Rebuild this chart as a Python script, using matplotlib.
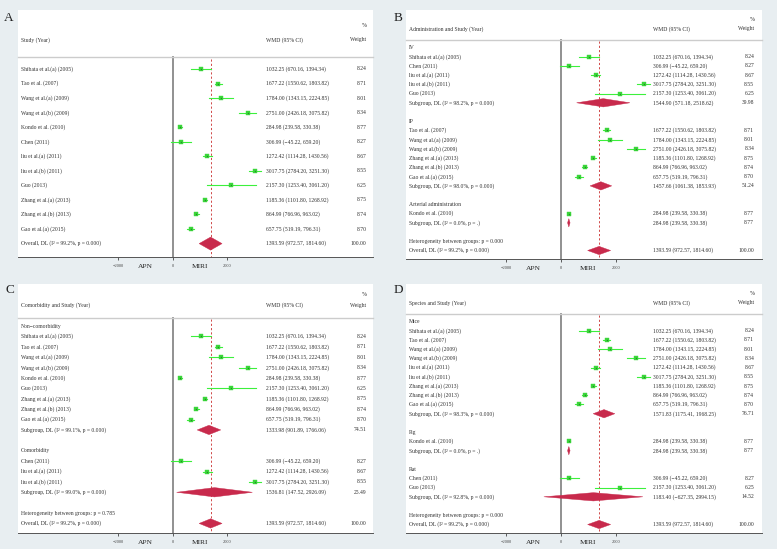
import matplotlib
matplotlib.use("Agg")
import matplotlib.pyplot as plt
from matplotlib.patches import Polygon
import numpy as np

plt.rcParams['font.family'] = ['Liberation Serif', 'DejaVu Serif']

# ---------------- data ----------------
study_names = ["Shibata et al.(a) (2005)", "Tao et al. (2007)", "Wang et al.(a) (2009)",
               "Wang et al.(b) (2009)", "Kondo et al. (2010)", "Chen (2011)",
               "liu et al.(a) (2011)", "liu et al.(b) (2011)", "Guo (2013)",
               "Zhang et al.(a) (2013)", "Zhang et al.(b) (2013)", "Gao et al.(a) (2015)"]
wmd = [1032.25, 1677.22, 1784.00, 2751.00, 284.98, 306.99,
       1272.42, 3017.75, 2157.30, 1185.36, 864.99, 657.75]
ci_low = [670.16, 1550.62, 1343.15, 2426.18, 239.58, -45.22,
          1114.28, 2784.20, 1253.40, 1101.80, 766.96, 519.19]
ci_high = [1394.34, 1803.82, 2224.85, 3075.82, 330.38, 659.20,
           1430.56, 3251.30, 3061.20, 1268.92, 963.02, 796.31]
weights = [8.24, 8.71, 8.01, 8.34, 8.77, 8.27, 8.67, 8.55, 6.25, 8.75, 8.74, 8.70]

overall_summary = [1393.59, 972.57, 1814.60, 100.00]
overall_i2 = ["99.2%", "0.000"]

# Panel B: administration
admin_groups = ["IV", "IP", "Arterial administration"]
admin_members = [[0, 5, 6, 7, 8], [1, 2, 3, 9, 10, 11], [4]]
admin_summary = [[1544.90, 571.18, 2518.62, 39.98],
                 [1457.66, 1061.38, 1853.93, 51.24],
                 [284.98, 239.58, 330.38, 8.77]]
admin_i2 = [["98.2%", "0.000"], ["98.0%", "0.000"], ["0.0%", "."]]
admin_het_p = "0.000"

# Panel C: comorbidity
comorb_groups = ["Non\u2212comorbidity", "Comorbidity"]
comorb_members = [[0, 1, 2, 3, 4, 8, 9, 10, 11], [5, 6, 7]]
comorb_summary = [[1333.98, 901.89, 1766.06, 74.51],
                  [1536.81, 147.52, 2926.09, 25.49]]
comorb_i2 = [["99.1%", "0.000"], ["99.0%", "0.000"]]
comorb_het_p = "0.785"

# Panel D: species
species_groups = ["Mice", "Pig", "Rat"]
species_members = [[0, 1, 2, 3, 6, 7, 9, 10, 11], [4], [5, 8]]
species_summary = [[1571.83, 1175.41, 1968.25, 76.71],
                   [284.98, 239.58, 330.38, 8.77],
                   [1183.40, -627.35, 2994.15, 14.52]]
species_i2 = [["98.3%", "0.000"], ["0.0%", "."], ["92.8%", "0.000"]]
species_het_p = "0.000"

x_ticks = [-2000, 0, 2000]
x_tick_labels = ["\u22122000", "0", "2000"]
left_label = "APN"
right_label = "MIRI"

# ---------------- style ----------------
BG = '#e8eef1'
TXT = '#333333'
GREEN_LINE = '#3cf03c'
GREEN_BOX = '#3ad63a'
GREEN_DOT = '#2a8a2a'
DIAMOND = '#c82a4c'
RED_DASH = '#d04848'
FS = 4.1
XLIM = (-5670, 7350)


def fmt_ci(v):
    s = "%.2f (%.2f, %.2f)" % (v[0], v[1], v[2])
    return s.replace("-", "\u2212")


def build_rows(groups=None, members=None, summary=None, i2=None, het_p=None):
    rows = []
    if groups is None:
        for i in range(len(study_names)):
            rows.append(("study", i))
    else:
        for g, (name, mem) in enumerate(zip(groups, members)):
            rows.append(("group", name))
            for i in mem:
                rows.append(("study", i))
            rows.append(("sub", g))
            rows.append(("blank", None))
        rows.append(("het", het_p))
    rows.append(("overall", None))
    return rows


def draw_panel(rect, letter, letter_pos, header, rows, summary, i2, wmd_x, wt_x):
    ax = fig.add_axes(rect)
    n = len(rows)
    ax.set_xlim(*XLIM)
    ax.set_ylim(n + 0.92, -3.05)
    ax.set_facecolor('white')
    for s in ['left', 'right', 'top']:
        ax.spines[s].set_visible(False)
    ax.spines['bottom'].set_color('#555555')
    ax.spines['bottom'].set_linewidth(0.7)
    ax.set_yticks([])
    ax.set_xticks(x_ticks)
    ax.set_xticklabels(x_tick_labels)
    ax.tick_params(axis='x', direction='out', length=2.5, width=0.6,
                   labelsize=3.2, pad=2.6, colors='#444444')
    tr = ax.get_yaxis_transform()  # x axes, y data

    # header
    ax.text(wt_x, -2, "%", transform=tr, ha='right', va='center', fontsize=FS, color=TXT)
    ax.text(0.0075, -1, header, transform=tr, ha='left', va='center', fontsize=FS, color=TXT)
    ax.text(wmd_x, -1, "WMD (95% CI)", transform=tr, ha='left', va='center', fontsize=FS, color=TXT)
    ax.text(wt_x, -1, "Weight", transform=tr, ha='right', va='center', fontsize=FS, color=TXT)
    ax.plot([0, 1], [0.2, 0.2], transform=tr, color='#cccccc', lw=1.0, clip_on=False)

    # reference lines
    ax.plot([0, 0], [0.2, n + 0.92], color='#888888', lw=1.3, zorder=1, clip_on=False)
    ax.plot([overall_summary[0]] * 2, [0.35, n + 0.92], color=RED_DASH, lw=0.7,
            ls=(0, (2.2, 2.2)), zorder=1)

    h = 0.45
    for k, (kind, val) in enumerate(rows):
        y = k + 1
        if kind == "study":
            i = val
            ax.plot([ci_low[i], ci_high[i]], [y, y], color=GREEN_LINE, lw=0.8, zorder=2)
            side = 0.9 * np.sqrt(weights[i])
            ax.plot(wmd[i], y, marker='s', ms=side, mfc=GREEN_BOX, mec=GREEN_BOX,
                    mew=0.3, zorder=3)
            ax.plot(wmd[i], y, marker='s', ms=side * 0.35, mfc=GREEN_DOT, mec='none', zorder=4)
            ax.text(0.0075, y, study_names[i], transform=tr, ha='left', va='center',
                    fontsize=FS, color=TXT)
            ax.text(wmd_x, y, fmt_ci([wmd[i], ci_low[i], ci_high[i]]), transform=tr,
                    ha='left', va='center', fontsize=FS, color=TXT)
            ax.text(wt_x, y, "%.2f" % weights[i], transform=tr, ha='right', va='center',
                    fontsize=FS, color=TXT)
        elif kind == "group":
            ax.text(0.0075, y, val, transform=tr, ha='left', va='center', fontsize=FS, color=TXT)
        elif kind in ("sub", "overall"):
            if kind == "sub":
                v = summary[val]
                lab = "Subgroup, DL (I\u00b2 = %s, p = %s)" % (i2[val][0], i2[val][1])
            else:
                v = overall_summary
                lab = "Overall, DL (I\u00b2 = %s, p = %s)" % (overall_i2[0], overall_i2[1])
            poly = Polygon([[v[1], y], [v[0], y - h], [v[2], y], [v[0], y + h]],
                           closed=True, facecolor=DIAMOND, edgecolor=DIAMOND, lw=0.3, zorder=3)
            ax.add_patch(poly)
            ax.text(0.0075, y, lab, transform=tr, ha='left', va='center', fontsize=FS, color=TXT)
            ax.text(wmd_x, y, fmt_ci(v), transform=tr, ha='left', va='center',
                    fontsize=FS, color=TXT)
            ax.text(wt_x, y, "%.2f" % v[3], transform=tr, ha='right', va='center',
                    fontsize=FS, color=TXT)
        elif kind == "het":
            ax.text(0.0075, y, "Heterogeneity between groups: p = %s" % val, transform=tr,
                    ha='left', va='center', fontsize=FS, color=TXT)

    # APN / MIRI labels
    for xv, lab in [(-1000, left_label), (1000, right_label)]:
        ax.annotate(lab, xy=(xv, 0), xycoords=('data', 'axes fraction'),
                    xytext=(0, -6.6), textcoords='offset points', ha='center', va='center',
                    fontsize=5.4, color='#222222', annotation_clip=False)
    fig.text(letter_pos[0] / W, 1 - letter_pos[1] / H, letter, ha='left', va='center',
             fontsize=9.5, color='#222222')
    return ax


W, H = 777, 549
fig = plt.figure(figsize=(W / 100, H / 100), dpi=100, facecolor=BG)


def rect_px(l, r, t, b):
    return [l / W, 1 - b / H, (r - l) / W, (b - t) / H]


rows_a = build_rows()
draw_panel(rect_px(18, 373, 10, 257), "A", (4, 18), "Study (Year)", rows_a,
           None, None, 0.70, 0.982)

rows_b = build_rows(admin_groups, admin_members, admin_summary, admin_i2, admin_het_p)
draw_panel(rect_px(406, 762, 10, 259), "B", (394, 18), "Administration and Study (Year)",
           rows_b, admin_summary, admin_i2, 0.695, 0.978)

rows_c = build_rows(comorb_groups, comorb_members, comorb_summary, comorb_i2, comorb_het_p)
draw_panel(rect_px(18, 373, 284, 533), "C", (5, 290), "Comorbidity and Study (Year)",
           rows_c, comorb_summary, comorb_i2, 0.70, 0.982)

rows_d = build_rows(species_groups, species_members, species_summary, species_i2, species_het_p)
draw_panel(rect_px(406, 762, 284, 533), "D", (394, 290), "Species and Study (Year)",
           rows_d, species_summary, species_i2, 0.695, 0.978)

fig.savefig("out.png", dpi=100, facecolor=BG)
